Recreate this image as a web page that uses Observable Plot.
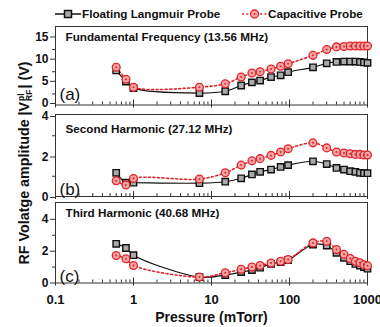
<!DOCTYPE html>
<html><head><meta charset="utf-8">
<script src="https://cdn.jsdelivr.net/npm/d3@7"></script>
<script src="https://cdn.jsdelivr.net/npm/@observablehq/plot@0.6"></script>
<style>
body{margin:0;background:#fff;font-family:Arial,"Liberation Sans",sans-serif;}
#wrap{position:relative;width:380px;height:327px;overflow:hidden;background:#fff;}
#wrap svg.p{position:absolute;left:0;overflow:visible;}
.leg{position:absolute;top:7px;font-weight:bold;font-size:11.7px;color:#111;white-space:nowrap;display:flex;align-items:center;}
#ylab{position:absolute;left:-96px;top:154px;width:240px;height:18px;line-height:18px;text-align:center;transform:rotate(-90deg);transform-origin:50% 50%;font-weight:bold;font-size:14.3px;color:#111;white-space:nowrap;}
.ss{display:inline-block;vertical-align:middle;line-height:8px;font-size:8.5px;text-align:left;margin:0 1px;}
</style></head>
<body><div id="wrap">
<div class="leg" style="left:55px"><svg width="26" height="12"><line x1="0" y1="6" x2="26" y2="6" stroke="#111" stroke-width="1.5"/><rect x="9.5" y="2.5" width="7" height="7" fill="#aaa" stroke="#111" stroke-width="1.5"/></svg><span style="margin-left:1px">Floating Langmuir Probe</span></div>
<div class="leg" style="left:242px"><svg width="26" height="12"><line x1="0" y1="6" x2="26" y2="6" stroke="#e0242a" stroke-width="1.6" stroke-dasharray="2,2.5"/><circle cx="12.5" cy="6" r="4" fill="#f4a6a6" stroke="#e0242a" stroke-width="1.3"/><circle cx="12.5" cy="6" r="1" fill="#e0242a"/></svg><span style="margin-left:0px">Capacitive Probe</span></div>
<div id="ylab">RF Volatge amplitude |V<span class="ss">pl<br>RF</span>| (V)</div>
</div>
<script>
const pressure = [0.6, 0.8, 1, 7, 15, 24, 33, 42, 58, 77, 96, 200, 300, 400, 500, 600, 700, 800, 900, 1000];
const floatingFund = [7.8, 5.3, 3.8, 2.7, 3.1, 4.4, 5.1, 5.5, 6.3, 6.7, 7.4, 8.5, 9.4, 9.7, 9.8, 9.8, 9.8, 9.7, 9.6, 9.5];
const capacitiveFund = [8.5, 5.8, 4.0, 4.0, 4.8, 6.3, 7.2, 7.5, 8.1, 8.75, 9.3, 11.2, 12.5, 13.1, 13.2, 13.3, 13.3, 13.3, 13.3, 13.3];
const floatingSecond = [1.17, 0.68, 0.68, 0.66, 0.73, 0.9, 1.09, 1.22, 1.33, 1.46, 1.55, 1.74, 1.6, 1.41, 1.33, 1.25, 1.22, 1.17, 1.15, 1.15];
const capacitiveSecond = [0.78, 0.57, 0.89, 0.86, 1.17, 1.55, 1.76, 1.87, 2.03, 2.2, 2.36, 2.65, 2.4, 2.2, 2.15, 2.11, 2.08, 2.08, 2.05, 2.05];
const floatingThird = [2.46, 2.2, 1.75, 0.37, 0.5, 0.69, 0.81, 0.96, 1.2, 1.31, 1.44, 2.42, 2.35, 1.9, 1.58, 1.37, 1.2, 1.1, 1.0, 0.9];
const capacitiveThird = [1.73, 1.52, 1.1, 0.37, 0.64, 0.86, 1.0, 1.1, 1.25, 1.37, 1.48, 2.52, 2.62, 2.1, 1.8, 1.54, 1.37, 1.27, 1.15, 1.08];
const majorTicks = [0.1, 1, 10, 100, 1000];
const xTickLabels = ["0.1", "1", "10", "100", "1000"];
const titles = ["Fundamental Frequency (13.56 MHz)", "Second Harmonic (27.12 MHz)", "Third Harmonic (40.68 MHz)"];
const tags = ["(a)", "(b)", "(c)"];

const minorTicks = [];
for (const d of [0.1, 1, 10, 100]) for (let k = 2; k <= 9; k++) minorTicks.push(+(d * k).toPrecision(3));

const RED = "#e0242a";
function panel({top, height, marginTop, marginBottom, yMax, yTicks, yMinor, yLabelDy, floating, capacitive, title, tag, titleDy, tagDy, showX}) {
  const data = pressure.map((p, i) => ({p, f: floating[i], c: capacitive[i]}));
  const plotH = height - marginTop - marginBottom;
  const marks = [
    Plot.frame({stroke: "#333", strokeWidth: 1}),
    Plot.ruleX(minorTicks, {insetTop: plotH - 3, stroke: "#333"}),
    Plot.ruleX(majorTicks, {insetTop: plotH - 5, insetBottom: -3, stroke: "#333"}),
    Plot.axisY({ticks: yMinor, tickFormat: () => "", tickSize: 3, label: null, stroke: "#333"}),
    Plot.axisY({ticks: yTicks, tickFormat: d => String(d), tickSize: 5, tickPadding: 2, label: null, fontSize: 12, fontWeight: "bold", stroke: "#333", dy: yLabelDy}),
    Plot.line(data, {x: "p", y: "f", stroke: "#111", strokeWidth: 1.2, curve: "catmull-rom"}),
    Plot.line(data, {x: "p", y: "c", stroke: RED, strokeWidth: 1.6, strokeDasharray: "2,2.5", curve: "catmull-rom"}),
    Plot.dot(data, {x: "p", y: "f", symbol: "square", r: 3.6, fill: "#aaa", stroke: "#111", strokeWidth: 1.4}),
    Plot.dot(data, {x: "p", y: "c", r: 3.9, fill: "#f4a6a6", stroke: RED, strokeWidth: 1.3}),
    Plot.dot(data, {x: "p", y: "c", r: 1, fill: RED}),
    Plot.text([title], {frameAnchor: "top-left", dx: 10, dy: titleDy, fontSize: 11.7, fontWeight: "bold", fill: "#111"}),
    Plot.text([tag], {frameAnchor: "bottom-left", dx: 4, dy: tagDy, fontSize: 17, fill: "#111"})
  ];
  if (showX) {
    marks.push(Plot.axisX({ticks: majorTicks, tickFormat: d => xTickLabels[majorTicks.indexOf(d)], tickSize: 0, tickPadding: 12, label: null, fontSize: 13, fontWeight: "bold"}));
    marks.push(Plot.text(["Pressure (mTorr)"], {frameAnchor: "bottom", dy: 39, fontSize: 14, fontWeight: "bold", fill: "#111"}));
  } else {
    marks.push(Plot.axisX({ticks: [], label: null}));
  }
  const svg = Plot.plot({
    width: 380, height, marginLeft: 55, marginRight: 13, marginTop, marginBottom,
    x: {type: "log", domain: [0.1, 1000]},
    y: {domain: [0, yMax]},
    style: {fontFamily: "Arial, 'Liberation Sans', sans-serif", color: "#111", background: "transparent", overflow: "visible"},
    marks
  });
  svg.classList.add("p");
  svg.style.top = top + "px";
  document.getElementById("wrap").appendChild(svg);
}

panel({top: 20, height: 89.5, marginTop: 6, marginBottom: 5, yMax: 17.7, yTicks: [0, 5, 10, 15], yMinor: [2.5, 7.5, 12.5], yLabelDy: -1.5,
  floating: floatingFund, capacitive: capacitiveFund, title: titles[0], tag: tags[0], titleDy: 6, tagDy: -5});
panel({top: 108, height: 92, marginTop: 6, marginBottom: 4, yMax: 4.05, yTicks: [0, 2, 4], yMinor: [1, 3], yLabelDy: 1,
  floating: floatingSecond, capacitive: capacitiveSecond, title: titles[1], tag: tags[1], titleDy: 10, tagDy: -2});
panel({top: 196, height: 126.5, marginTop: 6, marginBottom: 40, yMax: 5.06, yTicks: [0, 2, 4], yMinor: [1, 3], yLabelDy: 0,
  floating: floatingThird, capacitive: capacitiveThird, title: titles[2], tag: tags[2], titleDy: 6, tagDy: -1, showX: true});
</script>
</body></html>
